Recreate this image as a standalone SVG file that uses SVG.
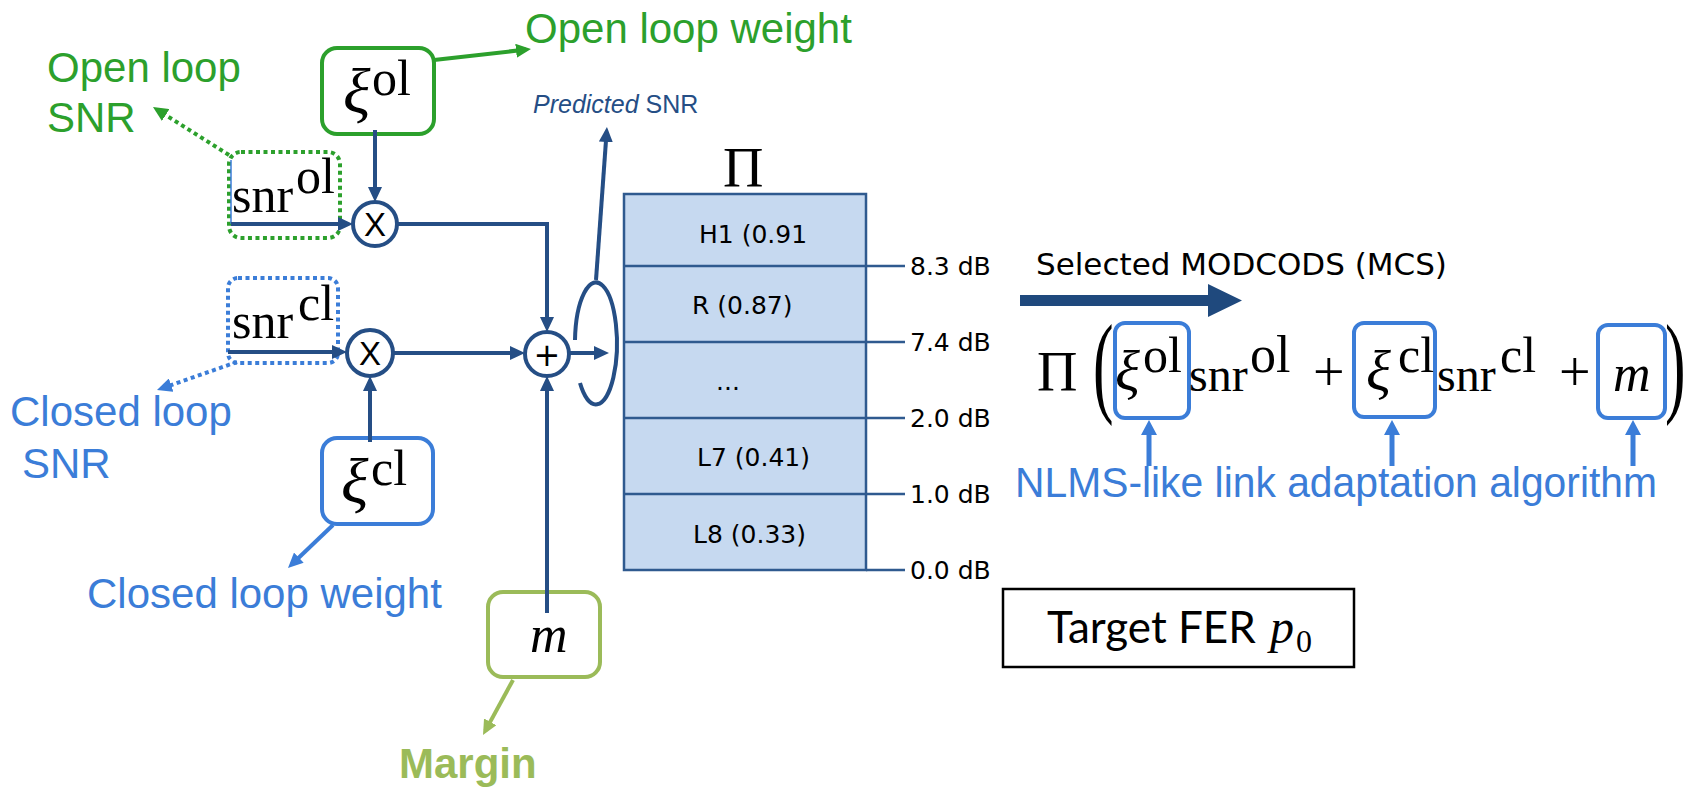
<svg xmlns="http://www.w3.org/2000/svg" width="1690" height="788" viewBox="0 0 1690 788">
  <style>
    .lbl { font-family: "Liberation Sans", Arial, sans-serif; font-size: 42px; }
    .green { fill: #2ca02c; }
    .blue { fill: #3b7dd8; }
    .olive { fill: #9bbb59; }
    .navy { fill: #254e85; }
    .math { font-family: "Liberation Serif", "Times New Roman", serif; fill: #000; }
    .it { font-style: italic; }
    .dv { font-family: "DejaVu Sans", sans-serif; font-size: 25px; fill: #000; }
    .conn { fill: none; stroke: #254e85; stroke-width: 4; }
    .tick { stroke: #2f5a8f; stroke-width: 2.5; }
    .op { fill: #fff; stroke: #254e85; stroke-width: 4; }
  </style>
  <defs>
    <marker id="ahNavy" markerUnits="userSpaceOnUse" markerWidth="16" markerHeight="14" refX="10" refY="7" orient="auto">
      <path d="M0,0 L15,7 L0,14 z" fill="#254e85"/>
    </marker>
    <marker id="ahGreen" markerUnits="userSpaceOnUse" markerWidth="16" markerHeight="14" refX="10" refY="7" orient="auto">
      <path d="M0,0 L15,7 L0,14 z" fill="#2ca02c"/>
    </marker>
    <marker id="ahBlue" markerUnits="userSpaceOnUse" markerWidth="16" markerHeight="14" refX="10" refY="7" orient="auto">
      <path d="M0,0 L15,7 L0,14 z" fill="#3b7dd8"/>
    </marker>
    <marker id="ahOlive" markerUnits="userSpaceOnUse" markerWidth="16" markerHeight="14" refX="10" refY="7" orient="auto">
      <path d="M0,0 L15,7 L0,14 z" fill="#9bbb59"/>
    </marker>
    <marker id="ahBlueBig" markerUnits="userSpaceOnUse" markerWidth="16" markerHeight="16" refX="9" refY="8" orient="auto">
      <path d="M0,0 L15,8 L0,16 z" fill="#3b7dd8"/>
    </marker>
  </defs>

  <!-- free labels -->
  <g id="labels">
    <text class="lbl green" x="47" y="82">Open loop</text>
    <text class="lbl green" x="47" y="132">SNR</text>
    <text class="lbl green" x="525" y="43">Open loop weight</text>
    <text class="lbl blue" x="10" y="426">Closed loop</text>
    <text class="lbl blue" x="22" y="478">SNR</text>
    <text class="lbl blue" x="87" y="608">Closed loop weight</text>
    <text class="lbl olive" x="399" y="778" font-weight="bold" font-size="41">Margin</text>
    <text class="navy" x="533" y="113" font-family="Liberation Sans, Arial, sans-serif" font-size="25"><tspan font-style="italic">Predicted</tspan> SNR</text>
  </g>

  <!-- open loop weight -->
  <g id="xi-ol">
    <rect x="322" y="48" width="112" height="86" rx="15" fill="#fff" stroke="#2ca02c" stroke-width="4"/>
    <text class="math it" x="343" y="113" font-size="64">ξ</text>
    <text class="math" x="372" y="95" font-size="50">ol</text>
  </g>

  <!-- open loop SNR -->
  <g id="snr-ol">
    <rect x="229" y="152" width="111" height="86" rx="12" fill="none" stroke="#2ca02c" stroke-width="4" stroke-dasharray="4 3.5"/>
    <line x1="231" y1="160" x2="231" y2="224" stroke="#3b7dd8" stroke-width="1.5"/>
    <text class="math" x="232" y="212" font-size="50">snr</text>
    <text class="math" x="296" y="193" font-size="50">ol</text>
  </g>

  <!-- closed loop SNR -->
  <g id="snr-cl">
    <rect x="228" y="278" width="110" height="85" rx="10" fill="none" stroke="#3b7dd8" stroke-width="4" stroke-dasharray="4 3.5"/>
    <text class="math" x="232" y="338" font-size="50">snr</text>
    <text class="math" x="298" y="320" font-size="50">cl</text>
  </g>

  <!-- closed loop weight -->
  <g id="xi-cl">
    <rect x="322" y="438" width="111" height="86" rx="15" fill="#fff" stroke="#3b7dd8" stroke-width="4"/>
    <text class="math it" x="341" y="503" font-size="64">ξ</text>
    <text class="math" x="371" y="485" font-size="50">cl</text>
  </g>

  <!-- margin -->
  <g id="margin">
    <rect x="488" y="592" width="112" height="85" rx="15" fill="#fff" stroke="#9bbb59" stroke-width="4"/>
    <text class="math it" x="530" y="652" font-size="52">m</text>
  </g>

  <!-- connectors -->
  <g id="connectors">
    <path class="conn" d="M231,224 H348" marker-end="url(#ahNavy)"/>
    <path class="conn" d="M375,130 V197" marker-end="url(#ahNavy)"/>
    <path class="conn" d="M397,224 H547 V327" marker-end="url(#ahNavy)"/>
    <path class="conn" d="M228,352 H342" stroke-width="3" marker-end="url(#ahNavy)"/>
    <path class="conn" d="M370,442 V381" marker-end="url(#ahNavy)"/>
    <path class="conn" d="M393,353 H520" marker-end="url(#ahNavy)"/>
    <path class="conn" d="M547,613 V381" marker-end="url(#ahNavy)"/>
    <path class="conn" d="M569,353 H604" marker-end="url(#ahNavy)"/>
    <path class="conn" d="M575,340 A21,61 0 1 1 580,383"/>
    <path class="conn" d="M596,280 L606.6,132" marker-end="url(#ahNavy)"/>
    <path d="M434,60 L526,49.6" fill="none" stroke="#2ca02c" stroke-width="4" marker-end="url(#ahGreen)"/>
    <path d="M229,155 L157.2,109.7" fill="none" stroke="#2ca02c" stroke-width="4" stroke-dasharray="4 3.5" marker-end="url(#ahGreen)"/>
    <path d="M237,362 L161.7,388.4" fill="none" stroke="#3b7dd8" stroke-width="4" stroke-dasharray="4 3.5" marker-end="url(#ahBlue)"/>
    <path d="M333,525 L291.6,564.5" fill="none" stroke="#3b7dd8" stroke-width="4" marker-end="url(#ahBlue)"/>
    <path d="M513,680 L485.4,730.6" fill="none" stroke="#9bbb59" stroke-width="4" marker-end="url(#ahOlive)"/>
    <path d="M1149,466 V426" fill="none" stroke="#3b7dd8" stroke-width="5" marker-end="url(#ahBlueBig)"/>
    <path d="M1392,466 V426" fill="none" stroke="#3b7dd8" stroke-width="5" marker-end="url(#ahBlueBig)"/>
    <path d="M1633,466 V426" fill="none" stroke="#3b7dd8" stroke-width="5" marker-end="url(#ahBlueBig)"/>
    <polygon points="1020,295 1208,295 1208,284 1242,300.5 1208,317 1208,306 1020,306" fill="#1f497d"/>
  </g>

  <!-- operators -->
  <g id="mul-ol">
    <circle class="op" cx="375" cy="224" r="22"/>
    <text x="375" y="236" text-anchor="middle" font-family="Liberation Sans, Arial, sans-serif" font-size="33">X</text>
  </g>
  <g id="mul-cl">
    <circle class="op" cx="370" cy="353" r="23"/>
    <text x="370" y="365" text-anchor="middle" font-family="Liberation Sans, Arial, sans-serif" font-size="33">X</text>
  </g>
  <g id="sum">
    <circle class="op" cx="547" cy="354" r="22"/>
    <text x="547" y="366" text-anchor="middle" font-family="DejaVu Sans, sans-serif" font-size="32">+</text>
  </g>

  <!-- MCS table -->
  <g id="mcs-table">
    <text class="math" x="723" y="187" font-size="56">Π</text>
    <rect x="624" y="194" width="242" height="376" fill="#c6d9f0" stroke="#2f5a8f" stroke-width="2.5"/>
    <line class="tick" x1="624" y1="266" x2="905" y2="266"/>
    <line class="tick" x1="624" y1="342" x2="905" y2="342"/>
    <line class="tick" x1="624" y1="418" x2="905" y2="418"/>
    <line class="tick" x1="624" y1="494" x2="905" y2="494"/>
    <line class="tick" x1="866" y1="570" x2="905" y2="570"/>
    <text class="dv" x="699" y="243">H1 (0.91</text>
    <text class="dv" x="692" y="314">R (0.87)</text>
    <text class="dv" x="716" y="390">...</text>
    <text class="dv" x="697" y="466">L7 (0.41)</text>
    <text class="dv" x="693" y="543">L8 (0.33)</text>
    <text class="dv" x="910" y="275">8.3 dB</text>
    <text class="dv" x="910" y="351">7.4 dB</text>
    <text class="dv" x="910" y="427">2.0 dB</text>
    <text class="dv" x="910" y="503">1.0 dB</text>
    <text class="dv" x="910" y="579">0.0 dB</text>
  </g>

  <!-- selected MCS -->
  <g id="selected">
    <text x="1036" y="275" font-family="DejaVu Sans, sans-serif" font-size="31" fill="#000">Selected MODCODS (MCS)</text>
  </g>

  <!-- link adaptation formula -->
  <g id="formula">
    <rect x="1115" y="323" width="74" height="95" rx="10" fill="none" stroke="#3b7dd8" stroke-width="4"/>
    <rect x="1354" y="323" width="81" height="94" rx="10" fill="none" stroke="#3b7dd8" stroke-width="4"/>
    <rect x="1598" y="325" width="67" height="93" rx="10" fill="none" stroke="#3b7dd8" stroke-width="4"/>
    <text class="math" x="1037" y="391" font-size="56">Π</text>
    <text class="math" transform="translate(1093,402) scale(0.55,1)" font-size="112">(</text>
    <text class="math it" x="1115" y="390" font-size="58">ξ</text>
    <text class="math" x="1143" y="372" font-size="50">ol</text>
    <text class="math" x="1189" y="391" font-size="48">snr</text>
    <text class="math" x="1250" y="372" font-size="52">ol</text>
    <text class="math" x="1313" y="391" font-size="56">+</text>
    <text class="math it" x="1366" y="390" font-size="58">ξ</text>
    <text class="math" x="1398" y="372" font-size="50">cl</text>
    <text class="math" x="1437" y="391" font-size="48">snr</text>
    <text class="math" x="1500" y="372" font-size="50">cl</text>
    <text class="math" x="1559" y="391" font-size="56">+</text>
    <text class="math it" x="1613" y="391" font-size="52">m</text>
    <text class="math" transform="translate(1665,402) scale(0.55,1)" font-size="112">)</text>
    <text class="lbl blue" x="1015" y="497" font-size="41" textLength="642" lengthAdjust="spacingAndGlyphs">NLMS-like link adaptation algorithm</text>
  </g>

  <!-- target error rate -->
  <g id="target-fer">
    <rect x="1003" y="589" width="351" height="78" fill="#fff" stroke="#000" stroke-width="2.5"/>
    <text x="1047" y="643" font-family="Lato, sans-serif" font-size="44" fill="#000">Target FER</text>
    <text class="math it" x="1270" y="643" font-size="48">p</text>
    <text class="math" x="1296" y="652" font-size="32">0</text>
  </g>
</svg>
